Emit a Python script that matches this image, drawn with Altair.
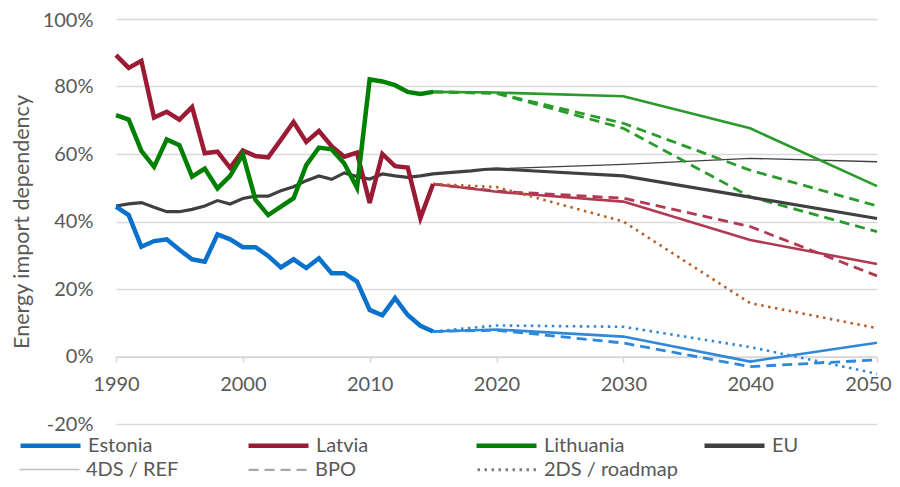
import altair as alt
import pandas as pd

# ---------------- data ----------------
hist_years = list(range(1990, 2016))
eu_years = list(range(1990, 2021)) + [2030, 2040, 2050]
proj_years = [2015, 2020, 2030, 2040, 2050]
ref_years = [2020, 2030, 2040, 2050]

estonia_hist = [44.4, 41.9, 32.5, 34.2, 34.7, 31.6, 28.8, 28.1, 36.2, 34.7,
                32.4, 32.4, 29.8, 26.4, 28.8, 26.2, 29.1, 24.7, 24.7, 22.2,
                13.8, 12.2, 17.3, 12.3, 9.1, 7.4]
latvia_hist = [89.3, 85.5, 87.6, 70.8, 72.5, 70.2, 73.9, 60.2, 60.7, 55.9,
               61.0, 59.4, 59.0, 64.2, 69.5, 63.6, 66.8, 62.3, 59.2, 60.4,
               45.5, 60.0, 56.4, 56.0, 41.0, 51.1]
lithuania_hist = [71.5, 70.2, 60.9, 56.2, 64.3, 62.6, 53.3, 55.7, 49.8, 53.5,
                  59.9, 46.4, 41.9, 44.4, 46.9, 56.7, 61.9, 61.4, 57.2, 50.0,
                  82.1, 81.5, 80.4, 78.4, 77.8, 78.4]
eu_values = [44.6, 45.2, 45.6, 44.2, 42.9, 42.9, 43.6, 44.6, 46.2, 45.2,
             46.8, 47.5, 47.5, 49.1, 50.3, 52.1, 53.5, 52.5, 54.4, 53.3,
             52.6, 54.1, 53.5, 53.1, 53.5, 54.1, 54.4, 54.7, 55.0, 55.4,
             55.6, 53.5, 47.2, 40.9]
eu_ref = [55.6, 56.9, 58.7, 57.7]

estonia_ref = [7.4, 8.0, 5.9, -1.5, 4.1]
estonia_bpo = [7.4, 7.8, 4.0, -3.0, -1.0]
estonia_2ds = [7.4, 9.2, 8.8, 2.8, -5.1]
latvia_ref = [51.1, 48.8, 45.9, 34.5, 27.4]
latvia_bpo = [51.1, 49.0, 46.9, 38.5, 23.9]
latvia_2ds = [51.1, 50.2, 40.0, 15.8, 8.4]
lithuania_ref = [78.4, 78.2, 77.1, 67.6, 50.5]
lithuania_bpo_a = [78.4, 78.0, 69.1, 55.2, 44.6]
lithuania_bpo_b = [78.4, 78.0, 67.6, 47.3, 37.0]

countries = ["Estonia", "Latvia", "Lithuania", "EU"]
country_colors = ["#0A72CC", "#9B1B35", "#008000", "#404040"]
scenarios = ["4DS / REF", "BPO", "2DS / roadmap"]
scenario_colors = ["#BFBFBF", "#A6A6A6", "#7F7F7F"]

# ---------------- table ----------------
STYLES = {
    "hist": dict(strokeWidth=4.5),
    "eu": dict(strokeWidth=3.2),
    "thin": dict(strokeWidth=1.3),
    "solid": dict(strokeWidth=2.6),
    "dash": dict(strokeWidth=2.8, strokeDash=[10, 6]),
    "dot": dict(strokeWidth=2.6, strokeDash=[2.5, 4.5]),
}
series_list = [
    ("EU ref", "thin", "#404040", ref_years, eu_ref),
    ("Estonia ref", "solid", "#2F88D8", proj_years, estonia_ref),
    ("Latvia ref", "solid", "#B03A52", proj_years, latvia_ref),
    ("Lithuania ref", "solid", "#2A9A2A", proj_years, lithuania_ref),
    ("Estonia bpo", "dash", "#2F88D8", proj_years, estonia_bpo),
    ("Latvia bpo", "dash", "#B03A52", proj_years, latvia_bpo),
    ("Lithuania bpo a", "dash", "#2A9A2A", proj_years, lithuania_bpo_a),
    ("Lithuania bpo b", "dash", "#2A9A2A", proj_years, lithuania_bpo_b),
    ("Estonia 2ds", "dot", "#2F88D8", proj_years, estonia_2ds),
    ("Latvia 2ds", "dot", "#B5612B", proj_years, latvia_2ds),
    ("EU", "eu", "#404040", eu_years, eu_values),
    ("Estonia", "hist", "#0A72CC", hist_years, estonia_hist),
    ("Latvia", "hist", "#9B1B35", hist_years, latvia_hist),
    ("Lithuania", "hist", "#008000", hist_years, lithuania_hist),
]
rows = []
for name, style, color, years, values in series_list:
    for y, v in zip(years, values):
        rows.append({"series": name, "year": y, "value": v})
df = pd.DataFrame(rows)

FONT = "Lato"
TXT = "#595959"

x_enc = alt.X("year:Q",
              scale=alt.Scale(domain=[1990, 2050], nice=False, zero=False),
              axis=alt.Axis(values=list(range(1990, 2051, 10)), format="d", title=None,
                            offset=-67.5, grid=False, domainColor="#D9D9D9", domainWidth=1.5,
                            tickColor="#D9D9D9", tickWidth=1.5, tickSize=6, labelPadding=12,
                            labelFlush=False, labelOverlap=False,
                            labelOffset={"condition": {"test": "datum.value == 2050", "value": -9},
                                         "value": 0},
                            labelFont=FONT, labelFontSize=20, labelColor=TXT))
y_enc = alt.Y("value:Q",
              scale=alt.Scale(domain=[-20, 100], nice=False, zero=False),
              axis=alt.Axis(values=list(range(-20, 101, 20)), labelExpr="datum.value + '%'",
                            title="Energy import dependency", titleFont=FONT, titleFontSize=21.5,
                            titleFontWeight="normal", titleColor=TXT, titlePadding=9,
                            domain=False, ticks=False, gridColor="#D9D9D9", gridWidth=1.5,
                            labelPadding=23, labelFlush=False,
                            labelOffset={"condition": {"test": "datum.value == 100", "value": 1.5},
                                         "value": 0},
                            labelFont=FONT, labelFontSize=20, labelColor=TXT))

base_layers = []
for name, style, color, years, values in series_list:
    base_layers.append(
        alt.Chart(df).transform_filter(alt.datum.series == name)
        .mark_line(color=color, **STYLES[style])
        .encode(x=x_enc, y=y_enc)
    )

leg_df = pd.DataFrame({"country": countries, "scenario": scenarios + [scenarios[0]],
                       "year": [1990] * 4, "value": [0] * 4})

country_legend = alt.Legend(orient="none", legendX=-98, legendY=394, direction="horizontal",
                            columns=4, gridAlign="all", columnPadding=70, symbolType="stroke",
                            symbolSize=3600, symbolStrokeWidth=4.5, labelFont=FONT,
                            labelFontSize=20, labelColor=TXT, labelOffset=5, title=None)
country_layer = (alt.Chart(leg_df).transform_filter("false").mark_line()
                 .encode(x=alt.X("year:Q"), y=alt.Y("value:Q"),
                         color=alt.Color("country:N",
                                         scale=alt.Scale(domain=countries, range=country_colors),
                                         legend=country_legend)))

scen_legend = alt.Legend(orient="none", legendX=-98, legendY=419, direction="horizontal",
                         columns=3, gridAlign="all", columnPadding=22, symbolType="stroke",
                         symbolSize=3600, labelFont=FONT, labelFontSize=20, labelColor=TXT,
                         labelOffset=5, title=None)
scen_layer = (alt.Chart(leg_df).transform_filter("false").mark_line()
              .encode(x=alt.X("year:Q"), y=alt.Y("value:Q"),
                      stroke=alt.Stroke("scenario:N",
                                        scale=alt.Scale(domain=scenarios, range=scenario_colors),
                                        legend=scen_legend),
                      strokeDash=alt.StrokeDash("scenario:N",
                                                scale=alt.Scale(domain=scenarios,
                                                                range=[[1, 0], [10, 6], [2.5, 4.5]]),
                                                legend=scen_legend),
                      strokeWidth=alt.StrokeWidth("scenario:N",
                                                  scale=alt.Scale(domain=scenarios,
                                                                  range=[1.5, 3.0, 2.5]),
                                                  legend=scen_legend)))

chart = (alt.layer(*base_layers, country_layer, scen_layer)
         .properties(width=761, height=405,
                     autosize=alt.AutoSizeParams(type="none"),
                     padding={"left": 108, "top": 11, "right": 15, "bottom": 55},
                     background="white")
         .configure_view(stroke=None))

chart.save("out.html", embed_options={"renderer": "svg", "actions": False})
